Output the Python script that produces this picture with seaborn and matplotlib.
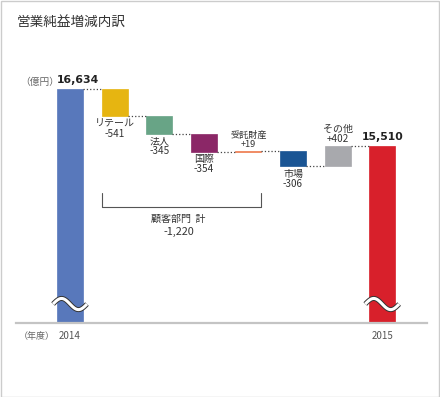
import matplotlib
matplotlib.use("Agg")
import matplotlib.pyplot as plt
import numpy as np
import pandas as pd
import seaborn as sns
from matplotlib.patches import Rectangle

sns.set_theme(style="white")
plt.rcParams['font.family'] = ['Noto Sans CJK JP', 'DejaVu Sans']

# データ
categories = ['2014', 'リテール', '法人', '国際', '受託財産', '市場', 'その他', '2015']
start_value = 16634
end_value = 15510
changes = [-541, -345, -354, 19, -306, 402]
change_labels = ['-541', '-345', '-354', '+19', '-306', '+402']
colors = ['#5878bb', '#e6b511', '#68a486', '#8b2767', '#ee7a4e', '#1a5594', '#a8a9ad', '#d8202b']
group_total = '-1,220'

# 累積
levels = [start_value]
for c in changes:
    levels.append(levels[-1] + c)

bottoms = [0]
heights = [start_value]
for i, c in enumerate(changes):
    bottoms.append(min(levels[i], levels[i + 1]))
    heights.append(abs(c))
bottoms.append(0)
heights.append(end_value)

df = pd.DataFrame({'cat': categories, 'height': heights})

fig = plt.figure(figsize=(4.4, 3.97), dpi=100)
ax = fig.add_axes([16 / 440, 1 - 323 / 397, 411 / 440, 263 / 397])

bw = 0.58
sns.barplot(data=df, x='cat', y='height', order=categories, color=colors[0],
            width=bw, bottom=np.array(bottoms, dtype=float), ax=ax, linewidth=0)
for p, col in zip(ax.patches, colors):
    p.set_facecolor(col)
    p.set_edgecolor(col)
    p.set_linewidth(0.5)

ax.set_xlim(-1.211, 8.004)
ax.set_ylim(12020, 17206)

# 点線の接続線
for i in range(len(categories) - 1):
    y = levels[i] if i < len(levels) else end_value
    ax.plot([i + bw / 2, i + 1 - bw / 2], [y, y], ls=':', color='#444444', lw=0.9)

# ラベル
txt = '#333333'
for i, (c, lab) in enumerate(zip(changes, change_labels)):
    x = i + 1
    name = categories[x]
    if c < 0:
        ax.annotate(name + '\n' + lab, (x, bottoms[x]), xytext=(0, -1.5),
                    textcoords='offset points', ha='center', va='top',
                    fontsize=7.2, color=txt, linespacing=1.0)
    else:
        ax.annotate(name + '\n' + lab, (x, bottoms[x] + heights[x]), xytext=(0, 1.5),
                    textcoords='offset points', ha='center', va='bottom',
                    fontsize=7.2 if name != '受託財産' else 6.6, color=txt, linespacing=1.0)

ax.annotate('16,634', (0 - bw / 2, start_value), xytext=(0, 3), textcoords='offset points',
            ha='left', va='bottom', fontsize=7.8, fontweight='bold', color='#222222',
            family='DejaVu Sans')
ax.annotate('15,510', (7, end_value), xytext=(0, 3), textcoords='offset points',
            ha='center', va='bottom', fontsize=7.8, fontweight='bold', color='#222222',
            family='DejaVu Sans')
fig.text(20 / 440, 1 - 82 / 397, '（億円）', fontsize=7, color='#666666', va='center', ha='left')

# 顧客部門 計
bx0, bx1 = 1 - bw / 2, 4 + bw / 2
ax.plot([bx0, bx0, bx1, bx1], [14580, 14310, 14310, 14580], color='#555555', lw=0.8)
ax.text((bx0 + bx1) / 2 - 0.07, 14070, '顧客部門  計', ha='center', va='center', fontsize=7.2, color=txt)
ax.text((bx0 + bx1) / 2 - 0.07, 13814, group_total, ha='center', va='center', fontsize=7.8, color=txt)

# 省略記号
t = np.linspace(0, 2 * np.pi, 60)
for x0 in [0, 7]:
    xs = x0 - 0.38 + 0.76 * t / (2 * np.pi)
    ys = 12394 + 110 * np.sin(t)
    ax.plot(xs, ys, color='#333333', lw=3.6, solid_capstyle='butt', zorder=5)
    ax.plot(xs, ys, color='white', lw=2.2, solid_capstyle='butt', zorder=6)

# 軸
for s in ['top', 'right', 'left']:
    ax.spines[s].set_visible(False)
ax.spines['bottom'].set_color('#c4c4c4')
ax.spines['bottom'].set_linewidth(1.6)
ax.set_xticks([0, 7])
ax.set_xticklabels(['2014', '2015'], fontsize=7, color='#555555')
ax.tick_params(axis='x', length=0, pad=6)
ax.set_yticks([])
ax.set_xlabel('')
ax.set_ylabel('')
fig.text(19 / 440, 1 - 336 / 397, '（年度）', fontsize=6.5, color='#666666', va='center', ha='left')

fig.text(17 / 440, 1 - 22 / 397, '営業純益増減内訳', fontsize=9.8, color='#333333', va='center', ha='left')

fig.add_artist(Rectangle((0.5 / 440, 0.5 / 397), 1 - 1.5 / 440, 1 - 1.5 / 397,
                         transform=fig.transFigure, fill=False, edgecolor='#cccccc', lw=1))

fig.savefig('out.png', dpi=100)
